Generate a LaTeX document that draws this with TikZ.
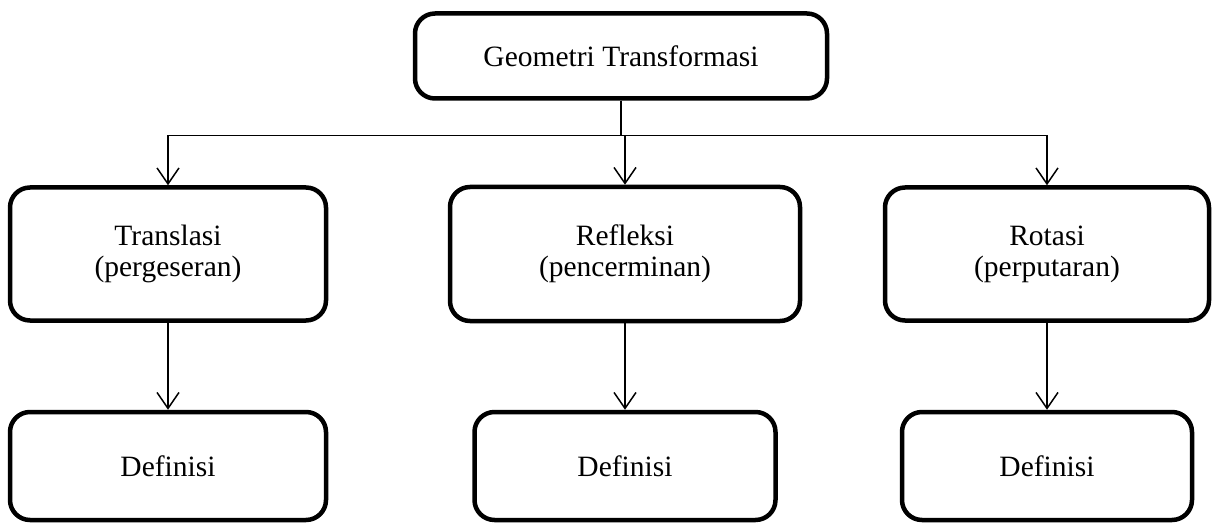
\documentclass[tikz,border=0pt]{standalone}
\usepackage{fontspec}
\setmainfont{Liberation Serif}
\usetikzlibrary{trees,arrows.meta}

\begin{document}
\begin{tikzpicture}

 \tikzset{
    box/.style={draw, line width=4.5pt, rounded corners=20pt, align=center,
      inner sep=0pt, font=\fontsize{29.5}{31}\selectfont},
    edge from parent/.style={draw, line width=1.5pt,
      -{Straight Barb[length=16pt,width=22pt]}},
    level 1/.style={sibling distance=440pt, level distance=198pt,
      edge from parent path={(\tikzparentnode.south) -- ++(0pt,-35pt)
        -| (\tikzchildnode.north)}},
    level 2/.style={level distance=212pt,
      edge from parent path={(\tikzparentnode.south) -- (\tikzchildnode.north)}},
  }

  \useasboundingbox (0pt,0pt) rectangle (1219pt,-524pt);

  \node[box, minimum width=412pt, minimum height=85pt] (geo) at (621pt,-56pt)
    {Geometri Transformasi}
    child[xshift=-13pt] { node[box, minimum width=316pt, minimum height=133pt] (trans)
        {Translasi\\(pergeseran)}
      child { node[box, minimum width=316pt, minimum height=108pt] (deftrans) {Definisi} }
    }
    child[xshift=4pt] { node[box, minimum width=350pt, minimum height=134pt] (refl)
        {Refleksi\\(pencerminan)}
      child { node[box, minimum width=301pt, minimum height=108pt] (defrefl) {Definisi} }
    }
    child[xshift=-14pt] { node[box, minimum width=324pt, minimum height=133pt] (rot)
        {Rotasi\\(perputaran)}
      child { node[box, minimum width=290pt, minimum height=108pt] (defrot) {Definisi} }
    };
\end{tikzpicture}
\end{document}
